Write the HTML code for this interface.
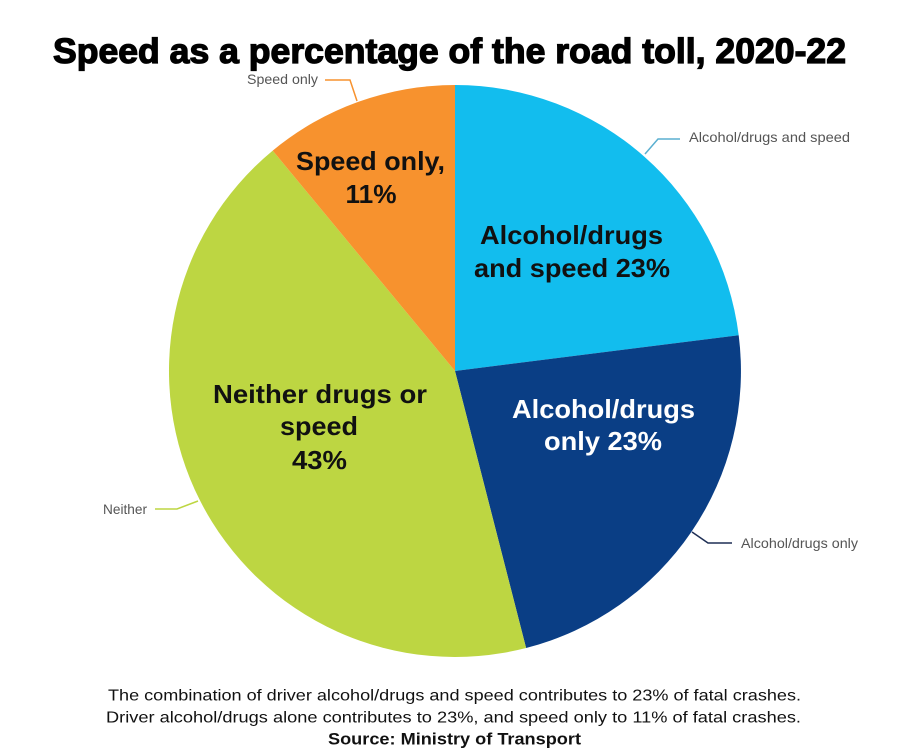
<!DOCTYPE html>
<html>
<head>
<meta charset="utf-8">
<style>
  html, body { margin:0; padding:0; background:#ffffff; }
  svg { display:block; }
</style>
</head>
<body>
<svg width="908" height="755" viewBox="0 0 908 755" xmlns="http://www.w3.org/2000/svg">
  <rect width="908" height="755" fill="#ffffff"/>

  <!-- Title -->
  <text x="53" y="63" font-family="Liberation Sans, Arial, sans-serif" font-weight="bold" font-size="35.6" fill="#000" stroke="#000" stroke-width="1.3" textLength="793" lengthAdjust="spacingAndGlyphs">Speed as a percentage of the road toll, 2020-22</text>

  <!-- Pie slices -->
  <path d="M455,371 L455,85 A286,286 0 0 1 738.7,335.2 Z" fill="#12BDEE"/>
  <path d="M455,371 L738.7,335.2 A286,286 0 0 1 526.1,648 Z" fill="#0A3E85"/>
  <path d="M455,371 L526.1,648 A286,286 0 0 1 272.7,150.6 Z" fill="#BDD642"/>
  <path d="M455,371 L272.7,150.6 A286,286 0 0 1 455,85 Z" fill="#F7922E"/>

  <!-- Leader lines -->
  <polyline points="325,80 350,80 357,101" fill="none" stroke="#F7922E" stroke-width="1.5"/>
  <polyline points="680,139 658,139 645,154" fill="none" stroke="#5AAFD0" stroke-width="1.5"/>
  <polyline points="732,543 708,543 692,532" fill="none" stroke="#1F2F55" stroke-width="1.5"/>
  <polyline points="155,509 177,509 198,501" fill="none" stroke="#BDD642" stroke-width="1.5"/>

  <!-- Callout labels -->
  <g font-family="Liberation Sans, Arial, sans-serif" font-size="14" fill="#555555">
    <text x="247" y="84" textLength="71" lengthAdjust="spacingAndGlyphs">Speed only</text>
    <text x="689" y="142" textLength="161" lengthAdjust="spacingAndGlyphs">Alcohol/drugs and speed</text>
    <text x="741" y="548" textLength="117" lengthAdjust="spacingAndGlyphs">Alcohol/drugs only</text>
    <text x="103" y="514" textLength="44" lengthAdjust="spacingAndGlyphs">Neither</text>
  </g>

  <!-- In-slice labels -->
  <g font-family="Liberation Sans, Arial, sans-serif" font-weight="bold" font-size="26" text-anchor="middle">
    <text x="370.5" y="170" fill="#111" textLength="149" lengthAdjust="spacingAndGlyphs">Speed only,</text>
    <text x="371" y="203" fill="#111" textLength="51" lengthAdjust="spacingAndGlyphs">11%</text>

    <text x="571.5" y="244" fill="#111" textLength="183" lengthAdjust="spacingAndGlyphs">Alcohol/drugs</text>
    <text x="572" y="277" fill="#111" textLength="196" lengthAdjust="spacingAndGlyphs">and speed 23%</text>

    <text x="603.5" y="418" fill="#ffffff" textLength="183" lengthAdjust="spacingAndGlyphs">Alcohol/drugs</text>
    <text x="603" y="450" fill="#ffffff" textLength="118" lengthAdjust="spacingAndGlyphs">only 23%</text>

    <text x="320" y="403" fill="#111" textLength="214" lengthAdjust="spacingAndGlyphs">Neither drugs or</text>
    <text x="319" y="435" fill="#111" textLength="78" lengthAdjust="spacingAndGlyphs">speed</text>
    <text x="319.5" y="469" fill="#111" textLength="55" lengthAdjust="spacingAndGlyphs">43%</text>
  </g>

  <!-- Footer -->
  <g font-family="Liberation Sans, Arial, sans-serif" fill="#111">
    <text x="108" y="700.5" font-size="16" textLength="693" lengthAdjust="spacingAndGlyphs">The combination of driver alcohol/drugs and speed contributes to 23% of fatal crashes.</text>
    <text x="106" y="722.5" font-size="16" textLength="695" lengthAdjust="spacingAndGlyphs">Driver alcohol/drugs alone contributes to 23%, and speed only to 11% of fatal crashes.</text>
    <text x="328" y="744.3" font-size="16.5" font-weight="bold" textLength="253" lengthAdjust="spacingAndGlyphs">Source: Ministry of Transport</text>
  </g>
</svg>
</body>
</html>
